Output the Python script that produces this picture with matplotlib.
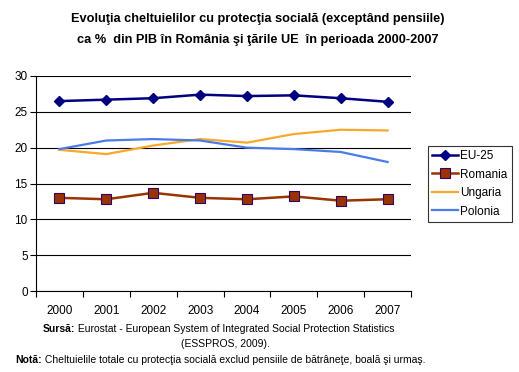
import matplotlib
matplotlib.use('Agg')
import matplotlib.pyplot as plt
import numpy as np

plt.rcParams['font.family'] = ['Liberation Sans', 'DejaVu Sans']

years = ['2000', '2001', '2002', '2003', '2004', '2005', '2006', '2007']
eu25 = [26.5, 26.7, 26.9, 27.4, 27.2, 27.3, 26.9, 26.4]
romania = [13.0, 12.8, 13.7, 13.0, 12.8, 13.2, 12.6, 12.8]
ungaria = [19.7, 19.1, 20.3, 21.2, 20.7, 21.9, 22.5, 22.4]
polonia = [19.8, 21.0, 21.2, 21.0, 20.0, 19.8, 19.4, 18.0]

fig = plt.figure(figsize=(5.19, 3.72), dpi=100)
ax = fig.add_axes([36/519, 1-291/372, 375/519, 215/372])

x = np.arange(len(years))
ax.plot(x, eu25, '-', color='#000080', marker='D', markersize=5, lw=1.8, label='EU-25', zorder=4)
ax.plot(x, romania, '-', color='#993300', marker='s', markersize=6.5, markerfacecolor='#993300',
        markeredgecolor='#330066', markeredgewidth=0.8, lw=1.8, label='Romania', zorder=4)
ax.plot(x, ungaria, '-', color='#F7A92B', lw=1.6, label='Ungaria', zorder=3)
ax.plot(x, polonia, '-', color='#4A7BE8', lw=1.6, label='Polonia', zorder=3)

# axes: category labels centred, ticks between categories
ax.set_xlim(-0.5, 7.5)
ax.set_ylim(0, 30)
ax.set_yticks(range(0, 31, 5))
ax.set_xticks(np.arange(-0.5, 8, 1))
ax.set_xticklabels([])
ax.set_xticks(x, minor=True)
ax.set_xticklabels(years, minor=True)
ax.tick_params(axis='x', which='minor', length=0, pad=10, labelsize=8.5)
ax.tick_params(axis='x', which='major', length=4, direction='out', width=0.8)
ax.tick_params(axis='y', length=4, direction='out', width=0.8, labelsize=8.5, pad=2)
ax.yaxis.grid(True, color='black', lw=0.8)
ax.set_axisbelow(True)
for s in ['top', 'right']:
    ax.spines[s].set_visible(False)
for s in ['left', 'bottom']:
    ax.spines[s].set_color('black')
    ax.spines[s].set_linewidth(0.8)

leg = fig.legend(loc='upper left', bbox_to_anchor=(428/519, 1-146/372), fontsize=8.5,
                 frameon=True, fancybox=False, handlelength=2.2, handletextpad=0.2,
                 borderpad=0.35, labelspacing=0.55, borderaxespad=0)
leg.get_frame().set_edgecolor('black')
leg.get_frame().set_linewidth(0.8)

fig.text(258/519, 1-19/372, 'Evoluţia cheltuielilor cu protecţia socială (exceptând pensiile)',
         ha='center', va='center', fontsize=9.2, fontweight='bold')
fig.text(258/519, 1-40/372, 'ca %  din PIB în România şi ţările UE  în perioada 2000-2007',
         ha='center', va='center', fontsize=9.2, fontweight='bold')

# source / note below the chart
t1 = fig.text(43/519, 1-329/372, 'Sursă:', ha='left', va='center', fontsize=7.5, fontweight='bold')
ax.annotate(' Eurostat - European System of Integrated Social Protection Statistics',
            xy=(1, 0.5), xycoords=t1, va='center', ha='left', fontsize=7.5,
            annotation_clip=False)
fig.text(225/519, 1-344/372, '(ESSPROS, 2009).', ha='center', va='center', fontsize=7.5)
t2 = fig.text(15/519, 1-360/372, 'Notă:', ha='left', va='center', fontsize=7.5, fontweight='bold')
ax.annotate(' Cheltuielile totale cu protecţia socială exclud pensiile de bătrâneţe, boală şi urmaş.',
            xy=(1, 0.5), xycoords=t2, va='center', ha='left', fontsize=7.5,
            annotation_clip=False)

fig.savefig('out.png', dpi=100)
